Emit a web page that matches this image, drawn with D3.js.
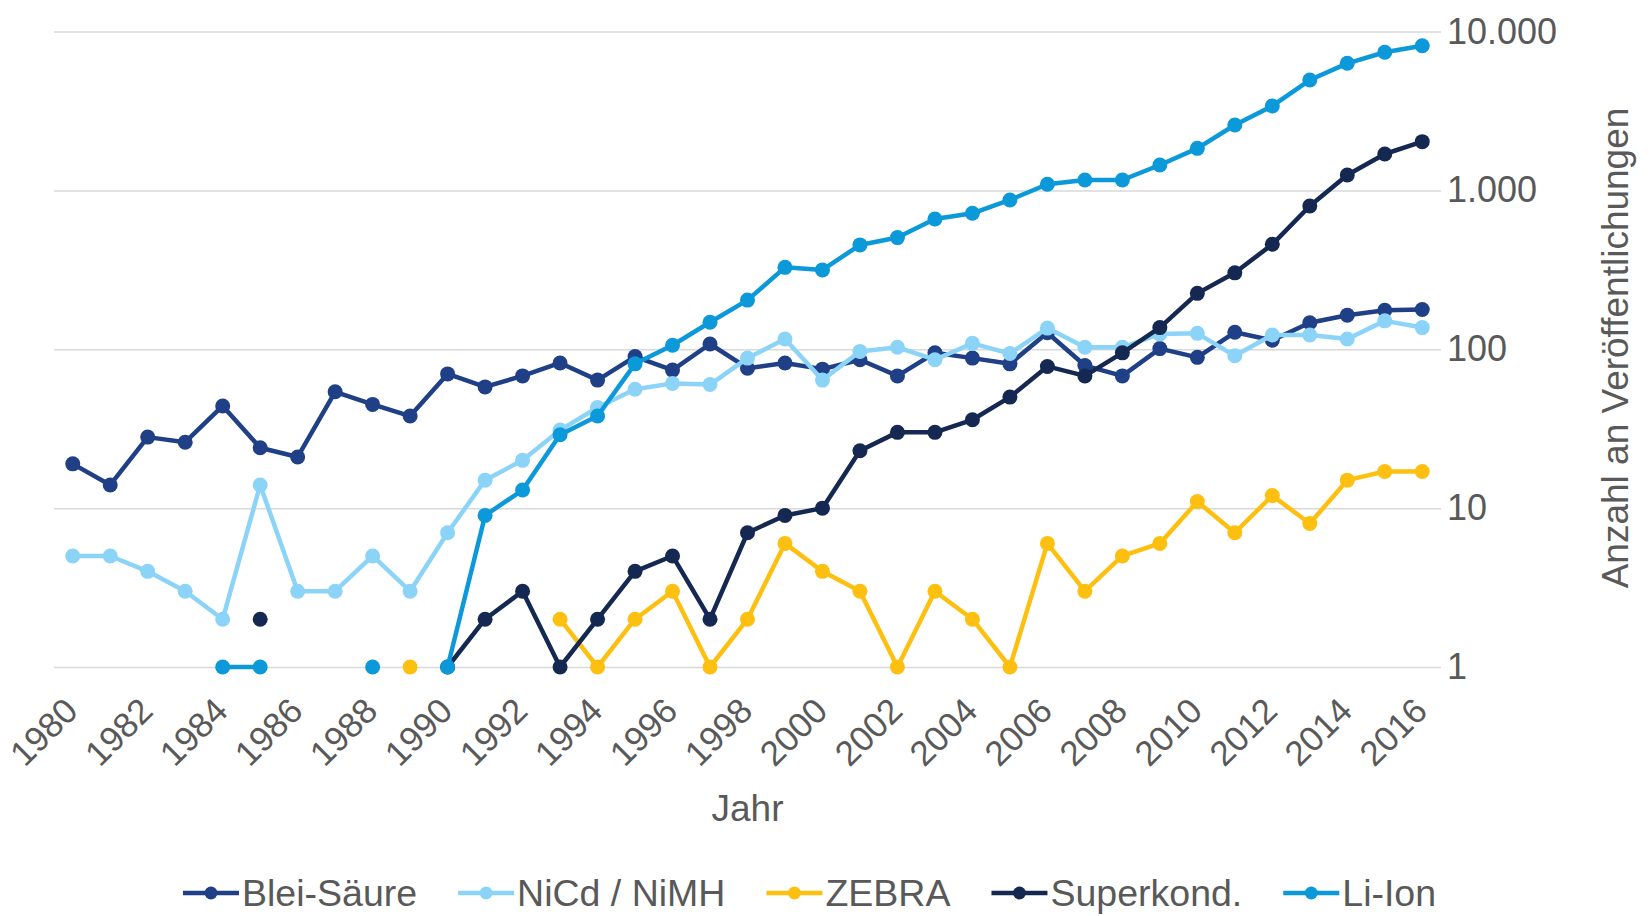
<!DOCTYPE html>
<html>
<head>
<meta charset="utf-8">
<script src="https://d3js.org/d3.v7.min.js"></script>
<style>
  body { margin: 0; background: #fff; }
  text { font-family: "Liberation Sans", Arial, sans-serif; fill: #595959; }
</style>
</head>
<body>
<div id="chart"></div>
<script>

    // data (null = no publications that year)
    var years = d3.range(1980, 2017);

    var bleiSaeure = [19, 14, 28, 26, 44, 24, 21, 54, 45, 38,
                      70, 58, 68, 82, 64, 90, 74, 108, 76, 82,
                      75, 86, 68, 95, 88, 81, 127, 79, 68, 101,
                      89, 128, 114, 147, 164, 176, 178];

    var nicdNimh = [5, 5, 4, 3, 2, 14, 3, 3, 5, 3,
                    7, 15, 20, 31, 43, 56, 61, 60, 88, 116,
                    64, 97, 103, 86, 109, 94, 136, 103, 103, 125,
                    126, 91, 123, 123, 116, 151, 137];

    var zebra = [null, null, null, null, null, null, null, null, null, 1,
                 null, null, null, 2, 1, 2, 3, 1, 2, 6,
                 4, 3, 1, 3, 2, 1, 6, 3, 5, 6,
                 11, 7, 12, 8, 15, 17, 17];

    var superkond = [null, null, null, null, null, 2, null, null, null, null,
                     1, 2, 3, 1, 2, 4, 5, 2, 7, 9,
                     10, 23, 30, 30, 36, 50, 78, 68, 95, 137,
                     225, 303, 458, 798, 1250, 1696, 2028];

    var liIon = [null, null, null, null, 1, 1, null, null, 1, null,
                 1, 9, 13, 29, 38, 81, 106, 148, 204, 328,
                 316, 454, 505, 661, 718, 871, 1094, 1164, 1164, 1446,
                 1841, 2583, 3403, 4955, 6314, 7410, 8150];

    var seriesNames = ["Blei-Säure", "NiCd / NiMH", "ZEBRA", "Superkond.", "Li-Ion"];
    var seriesColors = ["#1f3f86", "#8bd4f8", "#fdc010", "#142851", "#0b99da"];

    var xTickYears = years.filter(function(d) { return d % 2 === 0; });
    var yTickValues = [1, 10, 100, 1000, 10000];
    var yTickLabels = ["1", "10", "100", "1.000", "10.000"];

    var series = [bleiSaeure, nicdNimh, zebra, superkond, liIon].map(function(vals, i) {
        return {
            name: seriesNames[i],
            color: seriesColors[i],
            values: years.map(function(yr, j) { return {year: yr, value: vals[j]}; })
        };
    });

    // size of the page and the plot area
    var width = 1652, height = 916;
    var plot = {left: 54, right: 1441, top: 31.6, bottom: 667};

    var svg = d3.select("#chart")
        .append("svg")
        .attr("width", width)
        .attr("height", height);

    var x = d3.scaleBand()
        .domain(years)
        .range([plot.left, plot.right]);

    var y = d3.scaleLog()
        .domain([1, 10000])
        .range([plot.bottom, plot.top]);

    // gridlines + right axis labels
    var yAxis = svg.append("g")
        .attr("transform", "translate(" + plot.right + ",0)")
        .call(d3.axisRight(y)
            .tickValues(yTickValues)
            .tickFormat(function(d, i) { return yTickLabels[i]; })
            .tickSize(-(plot.right - plot.left))
            .tickPadding(6));
    yAxis.select(".domain").remove();
    yAxis.selectAll("line").attr("stroke", "#d9d9d9").attr("stroke-width", 1.5);
    yAxis.selectAll("text")
        .attr("fill", "#595959")
        .style("font-size", "36px")
        .style("font-family", "'Liberation Sans', Arial, sans-serif");

    // bottom axis, labels rotated
    var xAxis = svg.append("g")
        .attr("transform", "translate(0," + plot.bottom + ")")
        .call(d3.axisBottom(x).tickValues(xTickYears).tickSize(0));
    xAxis.select(".domain").remove();
    xAxis.selectAll("text")
        .attr("fill", "#595959")
        .style("font-size", "35px")
        .style("font-family", "'Liberation Sans', Arial, sans-serif")
        .attr("text-anchor", "end")
        .attr("x", 0)
        .attr("y", 0)
        .attr("dy", 0)
        .attr("transform", "translate(7,46) rotate(-45)");

    // axis titles
    svg.append("text")
        .attr("x", (plot.left + plot.right) / 2)
        .attr("y", 821)
        .attr("text-anchor", "middle")
        .style("font-size", "37px")
        .text("Jahr");

    svg.append("text")
        .attr("transform", "translate(1628,348) rotate(-90)")
        .attr("text-anchor", "middle")
        .style("font-size", "37px")
        .text("Anzahl an Veröffentlichungen");

    // lines
    var cx = function(d) { return x(d.year) + x.bandwidth() / 2; };
    var line = d3.line()
        .defined(function(d) { return d.value !== null; })
        .x(cx)
        .y(function(d) { return y(d.value); });

    var groups = svg.selectAll(".series")
        .data(series)
        .enter()
        .append("g")
        .attr("class", "series");

    groups.append("path")
        .attr("d", function(d) { return line(d.values); })
        .attr("fill", "none")
        .attr("stroke", function(d) { return d.color; })
        .attr("stroke-width", 4.5)
        .attr("stroke-linejoin", "round");

    groups.each(function(s) {
        d3.select(this).selectAll("circle")
            .data(s.values.filter(function(d) { return d.value !== null; }))
            .enter()
            .append("circle")
            .attr("cx", cx)
            .attr("cy", function(d) { return y(d.value); })
            .attr("r", 7.5)
            .attr("fill", s.color);
    });

    // legend
    var legend = svg.append("g").attr("transform", "translate(183,893)");
    var lx = 0;
    series.forEach(function(s) {
        var item = legend.append("g").attr("transform", "translate(" + lx + ",0)");
        item.append("line")
            .attr("x1", 0).attr("x2", 56)
            .attr("y1", 0).attr("y2", 0)
            .attr("stroke", s.color)
            .attr("stroke-width", 4.5);
        item.append("circle")
            .attr("cx", 28).attr("cy", 0).attr("r", 6.5)
            .attr("fill", s.color);
        var t = item.append("text")
            .attr("x", 59)
            .attr("y", 13)
            .style("font-size", "37.5px")
            .text(s.name);
        lx += 59 + t.node().getComputedTextLength() + 41;
    });

</script>
</body>
</html>
